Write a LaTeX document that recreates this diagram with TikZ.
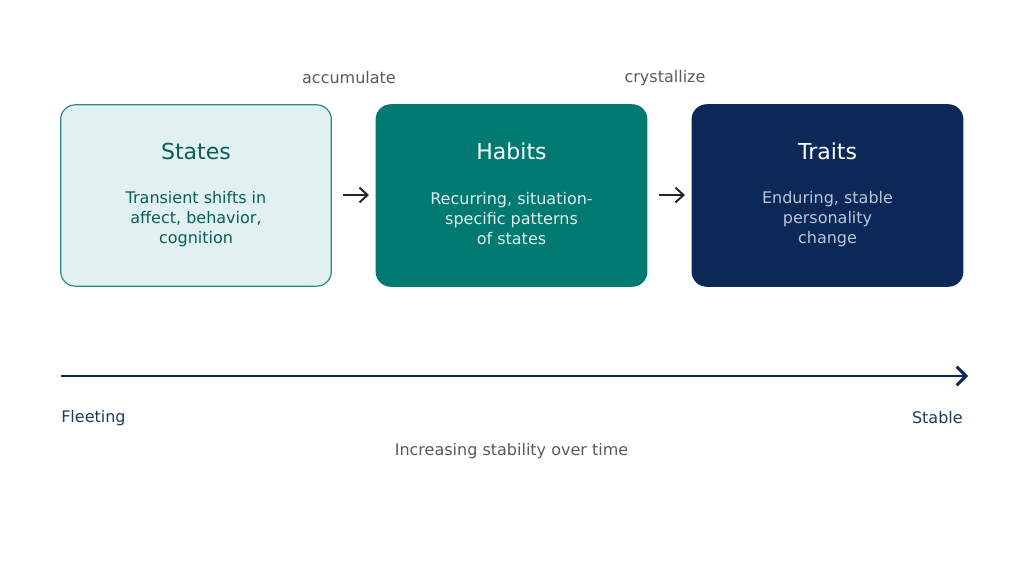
\documentclass[tikz,border=0pt]{standalone}
\usepackage{fontspec}
\setmainfont{DejaVu Sans}
\usetikzlibrary{arrows.meta}
\definecolor{lt}{HTML}{E1F1F1}
\definecolor{tealb}{HTML}{2A8A85}
\definecolor{tealt}{HTML}{0B5D5A}
\definecolor{habit}{HTML}{007A70}
\definecolor{navy}{HTML}{0B2856}
\definecolor{navyt}{HTML}{1E3A5F}
\definecolor{grayt}{HTML}{5A5A55}
\definecolor{lightb}{HTML}{BAC6D8}
\begin{document}
\begin{tikzpicture}[x=0.75pt,y=-0.75pt,
 box/.style={rounded corners=11pt,minimum width=203pt,minimum height=136pt,line width=0.9pt},
 ttl/.style={font=\fontsize{16.5}{20}\selectfont},
 body/.style={font=\fontsize{12}{15}\selectfont,align=center},
 lab/.style={font=\fontsize{12}{15}\selectfont,text=grayt},
 conn/.style={-{Straight Barb[length=6pt,width=11pt]},line width=1.5pt,black!85}]
\useasboundingbox (0,0) rectangle (1024,572);
\node[box,draw=tealb,fill=lt] (s) at (196,195.5) {};
\node[box,draw=habit,fill=habit] (h) at (511.5,195.5) {};
\node[box,draw=navy,fill=navy] (t) at (827.5,195.5) {};
\node[ttl,text=tealt] (st) at (196,151) {States};
\node[ttl,text=white] (ht) at (511.5,151) {Habits};
\node[ttl,text=white] (tt) at (827.5,151) {Traits};
\node[body,text=tealt] (sb) at (196,219) {Transient shifts in\\affect, behavior,\\cognition};
\node[body,text=white!88!habit] (hb) at (511.5,219) {Recurring, situation-\\specific patterns\\of states};
\node[body,text=lightb] (tb) at (827.5,219) {Enduring, stable\\personality\\change};
\coordinate (a1) at (343,195); \coordinate (a2) at (369,195);
\coordinate (b1) at (659,195); \coordinate (b2) at (685,195);
\draw[conn] (a1) -- (a2);
\draw[conn] (b1) -- (b2);
\node[lab] (acc) at (349,78) {accumulate};
\node[lab] (cry) at (665,78) {crystallize};
\coordinate (x1) at (61,376); \coordinate (x2) at (968,376);
\draw[-{Straight Barb[length=7pt,width=14pt]},line width=2.2pt,color=navy] (x1) -- (x2);
\node[body,text=navyt,anchor=west,inner sep=0] (fl) at (61,418) {Fleeting};
\node[body,text=navyt,anchor=east,inner sep=0] (sta) at (963,418) {Stable};
\node[lab] (cap) at (511.5,451) {Increasing stability over time};
\end{tikzpicture}
\end{document}
